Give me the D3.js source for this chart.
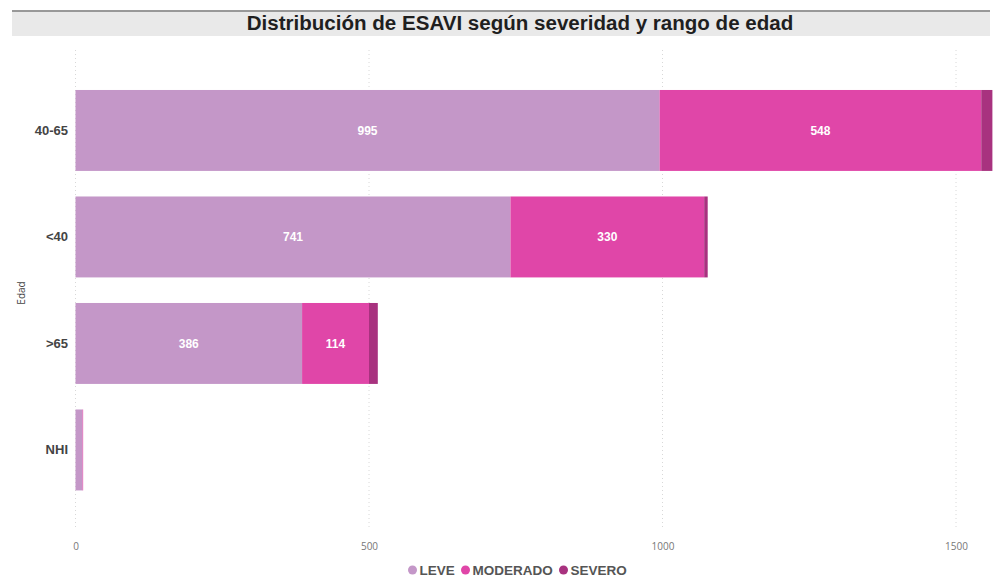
<!DOCTYPE html>
<html><head><meta charset="utf-8">
<script src="https://cdn.jsdelivr.net/npm/d3@7"></script>
<style>body{margin:0;background:#fff}svg{display:block}</style>
</head><body>
<svg id="c" width="993" height="576"></svg>
<script>
const categories = ["40-65", "<40", ">65", "NHI"];
const series = ["LEVE", "MODERADO", "SEVERO"];
const leve = [995, 741, 386, 12];
const moderado = [548, 330, 114, 1];
const severo = [19, 6, 15, 0];
const xTicks = [0, 500, 1000, 1500];
const colors = ["#C497C8", "#E046A8", "#A8327F"];

const svg = d3.select("#c");

// title bar
svg.append("line").attr("x1", 12).attr("x2", 990).attr("y1", 11).attr("y2", 11)
  .attr("stroke", "#333").attr("stroke-width", 1);
svg.append("rect").attr("x", 12).attr("y", 12).attr("width", 978).attr("height", 24).attr("fill", "#E9E9E9");
const title = svg.append("text").attr("x", 520).attr("y", 30).attr("text-anchor", "middle")
  .attr("font-family", "Liberation Sans, Arial, sans-serif").attr("font-weight", "bold")
  .attr("font-size", 18).attr("fill", "#1f1f1f")
  .text("Distribución de ESAVI según severidad y rango de edad");
const tl = title.node().getComputedTextLength();
title.attr("font-size", 18 * 547 / tl);

const x = d3.scaleLinear().domain([0, 1500]).range([75.5, 956]);
const y = d3.scaleBand().domain(categories).range([77.2, 503.2]).paddingInner(0.24).paddingOuter(0.12);

// grid
svg.append("g").selectAll("line").data(xTicks).join("line")
  .attr("x1", d => x(d)).attr("x2", d => x(d)).attr("y1", 50).attr("y2", 528)
  .attr("stroke", "#D8D8D8").attr("stroke-dasharray", "1,3");

// axis tick labels
const xa = svg.append("g").attr("transform", "translate(0,550)")
  .call(d3.axisBottom(x).tickValues(xTicks).tickSize(0).tickPadding(0).tickFormat(d3.format("d")));
xa.select(".domain").remove();
xa.selectAll("text").attr("fill", "#777").attr("font-size", 10)
  .attr("font-family", "Open Sans, DejaVu Sans, sans-serif").attr("dy", 0);

// y labels
const ya = svg.append("g").attr("transform", "translate(68,0)")
  .call(d3.axisLeft(y).tickSize(0).tickPadding(0));
ya.select(".domain").remove();
ya.selectAll("text").attr("fill", "#444").attr("font-size", 13).attr("font-weight", "bold")
  .attr("font-family", "Liberation Sans, Arial, sans-serif");

svg.append("text").attr("transform", "translate(25,293) rotate(-90)").attr("text-anchor", "middle")
  .attr("font-size", 10).attr("fill", "#444").attr("font-family", "Open Sans, DejaVu Sans, sans-serif")
  .text("Edad");

// stacked bars
const rows = categories.map((c, i) => ({cat: c, LEVE: leve[i], MODERADO: moderado[i], SEVERO: severo[i]}));
const stack = d3.stack().keys(series)(rows);
const g = svg.append("g");
stack.forEach((s, si) => {
  s.forEach(d => {
    const w = x(d[1]) - x(d[0]);
    if (w <= 0) return;
    g.append("rect").attr("x", x(d[0])).attr("y", y(d.data.cat))
      .attr("width", w).attr("height", y.bandwidth()).attr("fill", colors[si]);
    if (w > 40) {
      g.append("text").attr("x", (x(d[0]) + x(d[1])) / 2).attr("y", y(d.data.cat) + y.bandwidth() / 2)
        .attr("dy", "0.35em").attr("text-anchor", "middle").attr("fill", "#fff")
        .attr("font-weight", "bold").attr("font-size", 12)
        .attr("font-family", "Liberation Sans, Arial, sans-serif")
        .text(d[1] - d[0]);
    }
  });
});

// legend
const lg = svg.append("g").attr("font-family", "Liberation Sans, Arial, sans-serif")
  .attr("font-weight", "bold").attr("font-size", 13.5).attr("fill", "#555");
const lx = [412.5, 465.5, 563.5];
series.forEach((s, i) => {
  lg.append("circle").attr("cx", lx[i]).attr("cy", 570).attr("r", 4.5).attr("fill", colors[i]);
  lg.append("text").attr("x", lx[i] + 7).attr("y", 574.5).text(s);
});
</script>
</body></html>
